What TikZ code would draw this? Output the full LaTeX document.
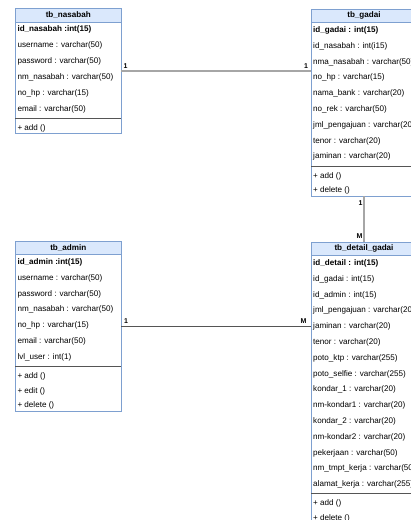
\documentclass[tikz,border=0pt]{standalone}
\usepackage{fontspec}
\setmainfont{Liberation Sans}
\definecolor{headfill}{HTML}{DAE8FC}
\definecolor{headline}{HTML}{7EA0D0}
\definecolor{sepcol}{HTML}{555555}
\definecolor{conlight}{HTML}{A6A6A6}
\definecolor{condark}{HTML}{555555}
\newcommand\rowfont{\fontsize{8.1}{9.7}\selectfont}
\newcommand\umltab[9]{%
  \pgfmathsetmacro\hb{#3+13.5}%
  \pgfmathsetmacro\sepy{#3+13.5+15.8*#7+1.3}%
  \pgfmathsetmacro\boty{\sepy+10+14.6*(#9-1)+5.5}%
  \pgfmathsetmacro\hh{\boty-#3}%
  \node[tabbox, minimum height=\hh pt, anchor=north west] (#1) at (#2,#3) {};
  \node[tabhead, anchor=north west] (#1-h) at (#2,#3) {#4};
  \node[rowtext, font=\rowfont\bfseries] (#1-a0) at (#2+2,\hb+7.9) {#5};
  \foreach \t [count=\i] in {#6} {\node[rowtext] (#1-a\i) at (#2+2,\hb+7.9+15.8*\i) {\t};}
  \draw[sepline] (#2,\sepy) -- (#2+106,\sepy);
  \foreach \t [count=\i from 0] in {#8} {\node[rowtext] (#1-m\i) at (#2+2,\sepy+10+14.6*\i) {\t};}
}
\tikzset{
  tabbox/.style={draw=headline, fill=white, line width=0.7pt, minimum width=106pt, inner sep=0pt, outer sep=0pt},
  tabhead/.style={draw=headline, fill=headfill, line width=0.7pt, minimum width=106pt, minimum height=13.5pt, inner sep=0pt, outer sep=0pt, font=\rowfont\bfseries},
  rowtext/.style={anchor=west, inner sep=0pt, font=\rowfont},
  sepline/.style={draw=sepcol, line width=0.9pt},
  conA/.style={draw=conlight, line width=1.6pt},
  conB/.style={draw=condark, line width=0.9pt},
  mult/.style={inner sep=0pt, font=\fontsize{7}{8}\selectfont\bfseries},
}
\begin{document}
\begin{tikzpicture}[x=1pt,y=-1pt]
\useasboundingbox (0,0) rectangle (411,520);
\clip (0,0) rectangle (411,520);
\fill[white] (0,0) rectangle (411,520);

\umltab{nasabah}{15.3}{8.5}{tb\_nasabah}{id\_nasabah :int(15)}{username : varchar(50), password : varchar(50), nm\_nasabah : varchar(50), no\_hp : varchar(15), email : varchar(50)}{6}{+ add ()}{1}

\umltab{gadai}{311}{9}{tb\_gadai}{id\_gadai : int(15)}{id\_nasabah : int(i15), nma\_nasabah : varchar(50), no\_hp : varchar(15), nama\_bank : varchar(20), no\_rek : varchar(50), jml\_pengajuan : varchar(20), tenor : varchar(20), jaminan : varchar(20)}{9}{+ add (), + delete ()}{2}

\umltab{admin}{15.3}{241}{tb\_admin}{id\_admin :int(15)}{username : varchar(50), password : varchar(50), nm\_nasabah : varchar(50), no\_hp : varchar(15), email : varchar(50), lvl\_user : int(1)}{7}{+ add (), + edit (), + delete ()}{3}

\umltab{detail}{311}{242}{tb\_detail\_gadai}{id\_detail : int(15)}{id\_gadai : int(15), id\_admin : int(15), jml\_pengajuan : varchar(20), jaminan : varchar(20), tenor : varchar(20), poto\_ktp :  varchar(255), poto\_selfie : varchar(255), kondar\_1 : varchar(20), nm-kondar1 : varchar(20), kondar\_2 : varchar(20), nm-kondar2 : varchar(20), pekerjaan : varchar(50), nm\_tmpt\_kerja : varchar(50), alamat\_kerja : varchar(255)}{15}{+ add (), + delete ()}{2}

% connector anchors
\coordinate (ytop) at (0,71);
\coordinate (ybot) at (0,326.5);
\coordinate (xv) at (364,0);
\coordinate (c1a) at (nasabah.east |- ytop);
\coordinate (c1b) at (gadai.west |- ytop);
\coordinate (c2a) at (xv |- gadai.south);
\coordinate (c2b) at (xv |- detail.north);
\coordinate (c3a) at (admin.east |- ybot);
\coordinate (c3b) at (detail.west |- ybot);

\draw[conA] (c1a) -- (c1b);
\draw[conA] (c2a) -- (c2b);
\draw[conB] (c3a) -- (c3b);

\node[mult] (m1a) at (125.5,66) {1};
\node[mult] (m1b) at (306,66) {1};
\node[mult] (m2a) at (360.5,203.5) {1};
\node[mult] (m2b) at (359.5,236.5) {M};
\node[mult] (m3a) at (126,321) {1};
\node[mult] (m3b) at (303.5,321) {M};
\end{tikzpicture}
\end{document}
